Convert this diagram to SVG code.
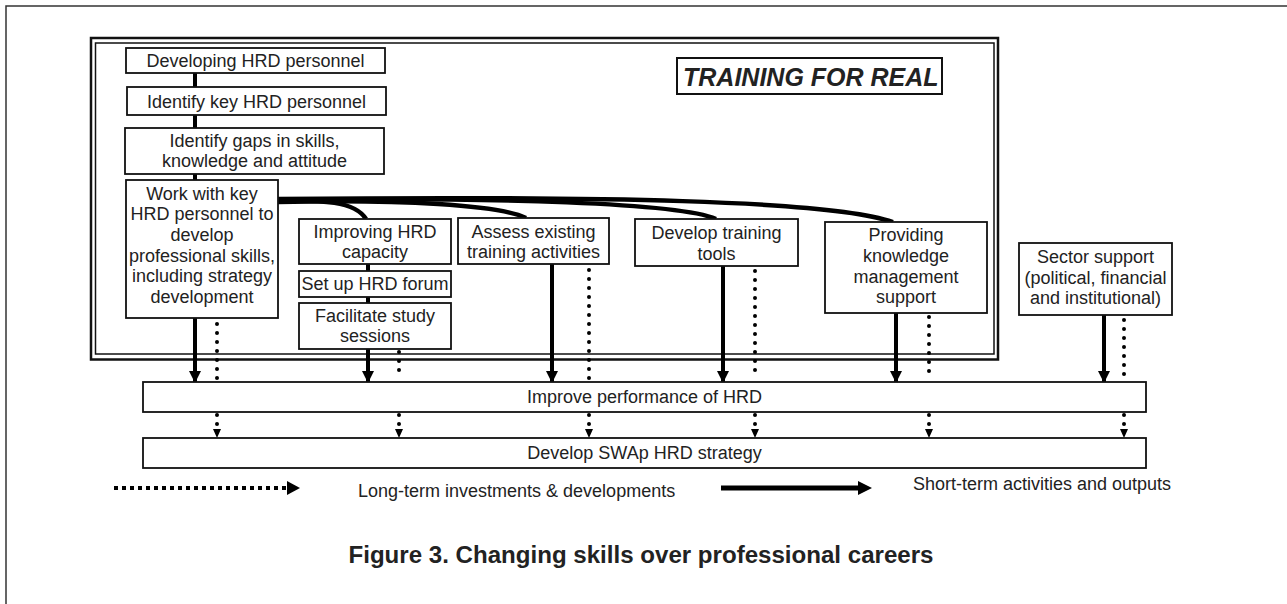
<svg xmlns="http://www.w3.org/2000/svg" width="1287" height="604" viewBox="0 0 1287 604">
<defs>
<style>
.box{fill:#fff;stroke:#111;stroke-width:1.8}
.t{font-family:"Liberation Sans",Arial,sans-serif;font-size:18px;fill:#222;text-anchor:middle}
.solid{stroke:#000;stroke-width:4;fill:none}
.dot{stroke:#000;stroke-width:4;fill:none;stroke-linecap:round;stroke-dasharray:0 9}
.curve{stroke:#000;stroke-width:4.5;fill:none}
</style>
<marker id="ah" markerUnits="userSpaceOnUse" markerWidth="12" markerHeight="14" refX="11" refY="6" orient="auto">
<path d="M0,0 L12,6 L0,12 Z" fill="#000"/>
</marker>
</defs>
<rect width="1287" height="604" fill="#fff"/>
<g id="frame">
<path d="M6,604 L6,6 L1287,6" fill="none" stroke="#333" stroke-width="1.5"/>
<rect x="91" y="38" width="907" height="321.5" fill="none" stroke="#111" stroke-width="2.5"/>
<rect x="95.5" y="43" width="898.5" height="311" fill="none" stroke="#111" stroke-width="1.5"/>
</g>
<g id="connectors">
<line class="solid" x1="195" y1="73" x2="195" y2="180"/>
<line class="solid" x1="368" y1="264" x2="368" y2="303"/>
<path class="curve" d="M278,201 C322,200 355,201 366,219"/>
<path class="curve" d="M278,202 C400,199 500,205 526,218"/>
<path class="curve" d="M278,200 C500,197 680,203 716,219"/>
<path class="curve" d="M278,199 C600,196 830,200 893,222"/>
<line class="solid" x1="195" y1="318" x2="195" y2="382" marker-end="url(#ah)"/>
<line class="solid" x1="368" y1="349" x2="368" y2="382" marker-end="url(#ah)"/>
<line class="solid" x1="552" y1="264" x2="552" y2="382" marker-end="url(#ah)"/>
<line class="solid" x1="723" y1="266" x2="723" y2="382" marker-end="url(#ah)"/>
<line class="solid" x1="896" y1="313" x2="896" y2="382" marker-end="url(#ah)"/>
<line class="solid" x1="1104" y1="315" x2="1104" y2="382" marker-end="url(#ah)"/>
<line class="dot" x1="217" y1="324" x2="217" y2="379"/>
<line class="dot" x1="399" y1="352" x2="399" y2="379"/>
<line class="dot" x1="589" y1="270" x2="589" y2="379"/>
<line class="dot" x1="755" y1="271" x2="755" y2="379"/>
<line class="dot" x1="929" y1="317" x2="929" y2="379"/>
<line class="dot" x1="1124" y1="320" x2="1124" y2="379"/>
<g>
<line class="dot" x1="217" y1="415" x2="217" y2="425"/>
<line class="dot" x1="399" y1="415" x2="399" y2="425"/>
<line class="dot" x1="589" y1="415" x2="589" y2="425"/>
<line class="dot" x1="755" y1="415" x2="755" y2="425"/>
<line class="dot" x1="929" y1="415" x2="929" y2="425"/>
<line class="dot" x1="1124" y1="415" x2="1124" y2="425"/>
<path d="M213,429 L221,429 L217,438 Z M395,429 L403,429 L399,438 Z M585,429 L593,429 L589,438 Z M751,429 L759,429 L755,438 Z M925,429 L933,429 L929,438 Z M1120,429 L1128,429 L1124,438 Z" fill="#000"/>
</g>
</g>
<g id="n1"><rect class="box" x="126" y="48" width="259" height="25"/><text class="t" x="255.5" y="67">Developing HRD personnel</text></g>
<g id="n2"><rect class="box" x="127" y="87" width="259" height="28"/><text class="t" x="256.5" y="108">Identify key HRD personnel</text></g>
<g id="n3"><rect class="box" x="125" y="128" width="259" height="46"/><text class="t" x="254.5" y="147">Identify gaps in skills,</text><text class="t" x="254.5" y="167">knowledge and attitude</text></g>
<g id="n4"><rect class="box" x="126" y="180" width="152" height="138"/>
<text class="t" x="202" y="199.5">Work with key</text>
<text class="t" x="202" y="220.2">HRD personnel to</text>
<text class="t" x="202" y="240.9">develop</text>
<text class="t" x="202" y="261.6">professional skills,</text>
<text class="t" x="202" y="282.3">including strategy</text>
<text class="t" x="202" y="303">development</text></g>
<g id="title"><rect x="677" y="58" width="265" height="36" fill="#fff" stroke="#111" stroke-width="2"/><text x="683" y="86" font-family="'Liberation Sans',Arial,sans-serif" font-size="25" font-weight="bold" font-style="italic" fill="#222">TRAINING FOR REAL</text></g>
<g id="n5"><rect class="box" x="299" y="219" width="152" height="45"/><text class="t" x="375" y="238">Improving HRD</text><text class="t" x="375" y="258">capacity</text></g>
<g id="n6"><rect class="box" x="299" y="271" width="152" height="26"/><text class="t" x="375" y="290">Set up HRD forum</text></g>
<g id="n7"><rect class="box" x="299" y="303" width="152" height="46"/><text class="t" x="375" y="322">Facilitate study</text><text class="t" x="375" y="342">sessions</text></g>
<g id="n8"><rect class="box" x="458" y="218" width="151" height="46"/><text class="t" x="533.5" y="237.5">Assess existing</text><text class="t" x="533.5" y="258">training activities</text></g>
<g id="n9"><rect class="box" x="635" y="219" width="163" height="47"/><text class="t" x="716.5" y="239">Develop training</text><text class="t" x="716.5" y="259.5">tools</text></g>
<g id="n10"><rect class="box" x="825" y="222" width="162" height="91"/><text class="t" x="906" y="241">Providing</text><text class="t" x="906" y="262">knowledge</text><text class="t" x="906" y="282.5">management</text><text class="t" x="906" y="303">support</text></g>
<g id="n11"><rect class="box" x="1019" y="243" width="153" height="72"/><text class="t" x="1095.5" y="262.5">Sector support</text><text class="t" x="1095.5" y="283.5">(political, financial</text><text class="t" x="1095.5" y="304">and institutional)</text></g>
<g id="n12"><rect class="box" x="143" y="382" width="1003" height="30"/><text class="t" x="644.5" y="403">Improve performance of HRD</text></g>
<g id="n13"><rect class="box" x="143" y="438" width="1003" height="30"/><text class="t" x="644.5" y="459">Develop SWAp HRD strategy</text></g>
<g id="legend">
<line x1="114" y1="488" x2="288" y2="488" stroke="#000" stroke-width="4" stroke-dasharray="4 4"/>
<path d="M287,481 L300,488 L287,495 Z" fill="#000"/>
<text x="358" y="497" font-family="'Liberation Sans',Arial,sans-serif" font-size="18" fill="#222">Long-term investments &amp; developments</text>
<line x1="721" y1="488" x2="860" y2="488" stroke="#000" stroke-width="5"/>
<path d="M858,481 L872,488 L858,495 Z" fill="#000"/>
<text x="913" y="490" font-family="'Liberation Sans',Arial,sans-serif" font-size="18" fill="#222">Short-term activities and outputs</text>
</g>
<text x="641" y="563" text-anchor="middle" font-family="'Liberation Sans',Arial,sans-serif" font-size="23" font-weight="bold" fill="#222" textLength="585" lengthAdjust="spacingAndGlyphs">Figure 3. Changing skills over professional careers</text>
</svg>
